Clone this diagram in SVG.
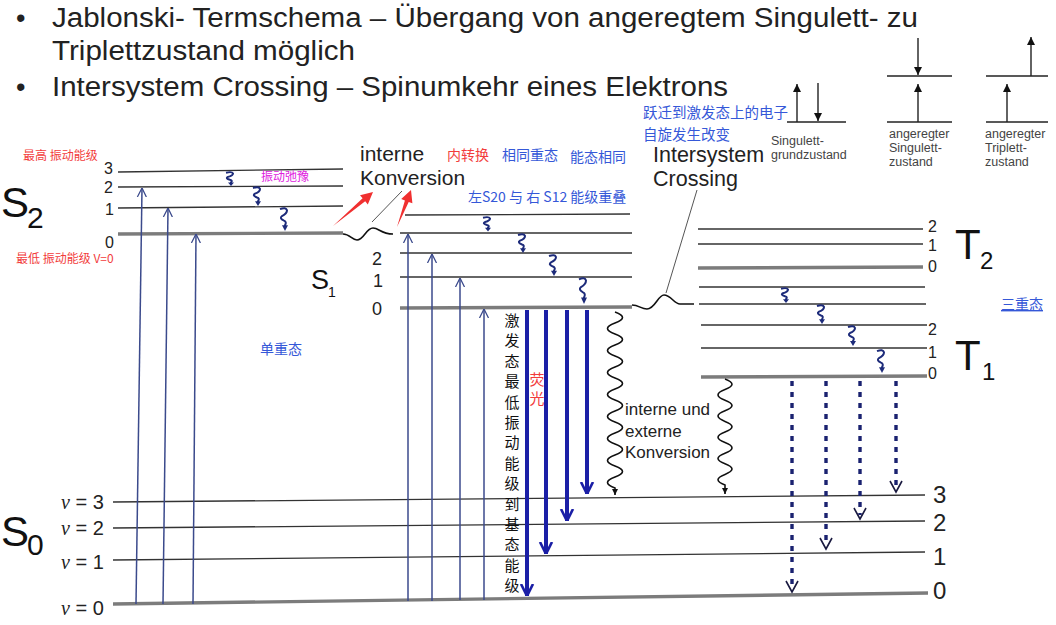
<svg xmlns="http://www.w3.org/2000/svg" width="1056" height="625" viewBox="0 0 1056 625">
<style>
.hd{font-family:"Liberation Sans",Arial,sans-serif;font-size:27px;fill:#222}
.lv{stroke:#333;stroke-width:1.3;fill:none}
.lt{stroke:#7c7c7c;stroke-width:3.4;fill:none}
.num{font-family:"Liberation Sans",Arial,sans-serif;fill:#222}
.big{font-family:"Liberation Sans",Arial,sans-serif;fill:#111}
.lab{font-family:"Liberation Sans",Arial,sans-serif;fill:#222}
.cn{font-family:"Noto Sans CJK SC",sans-serif}
.blue{fill:#3558d8}
.red{fill:#f23c3c}
.abs{stroke:#3b4a8c;stroke-width:1.5;fill:none}
.flu{stroke:#1b1fa6;stroke-width:4;fill:none}
.pho{stroke:#1a2270;stroke-width:3.4;stroke-dasharray:5 6;fill:none}
.phh{stroke:#1a1a40;stroke-width:1.6;fill:none}
.sq{stroke:#1d2b7a;stroke-width:2;fill:none}
.wv{stroke:#111;stroke-width:1.6;fill:none}
.sp{stroke:#222;stroke-width:1.4;fill:none}
.spl{stroke:#555;stroke-width:1;fill:none}
.st{font-family:"Liberation Sans",Arial,sans-serif;font-size:12.5px;fill:#444}
</style>
<defs>
<marker id="ha" viewBox="0 0 10 10" refX="10" refY="5" markerUnits="userSpaceOnUse" markerWidth="9" markerHeight="13" orient="auto"><path d="M0,0 L10,5 L0,10" fill="none" stroke="#3b4a8c" stroke-width="1.4"/></marker>
<marker id="hf" viewBox="0 0 10 10" refX="10" refY="5" markerUnits="userSpaceOnUse" markerWidth="12" markerHeight="18" orient="auto"><path d="M0,0 L10,5 L0,10" fill="none" stroke="#1b1fa6" stroke-width="2.2"/></marker>
<marker id="hs" viewBox="0 0 10 10" refX="10" refY="5" markerUnits="userSpaceOnUse" markerWidth="9" markerHeight="8" orient="auto"><path d="M0,0 L10,5 L0,10 Z" fill="#111"/></marker>
<marker id="hw" viewBox="0 0 10 10" refX="10" refY="5" markerUnits="userSpaceOnUse" markerWidth="6" markerHeight="6" orient="auto"><path d="M0,0 L10,5 L0,10 Z" fill="#111"/></marker>
<g id="squig"><path class="sq" vector-effect="non-scaling-stroke" d="M-4,1 Q2,-1 3,2 Q3,5 -2,7 Q-5,9 0,11 Q3,12 1,15 L1,16"/><polygon points="-2,15 4,15 1,20" fill="#1d2b7a"/></g>
</defs>

<g id="header">
<text class="hd" x="16" y="27">•</text>
<text class="hd" x="52" y="27" textLength="866" lengthAdjust="spacingAndGlyphs">Jablonski- Termschema – Übergang von angeregtem Singulett- zu</text>
<text class="hd" x="52" y="60" textLength="303" lengthAdjust="spacingAndGlyphs">Triplettzustand möglich</text>
<text class="hd" x="16" y="96">•</text>
<text class="hd" x="52" y="96" textLength="676" lengthAdjust="spacingAndGlyphs">Intersystem Crossing – Spinumkehr eines Elektrons</text>
</g>

<g id="spin-ground">
<line class="sp" x1="787" y1="122" x2="846" y2="122"/>
<line class="sp" x1="797" y1="122" x2="797" y2="84" marker-end="url(#hs)"/>
<line class="sp" x1="818" y1="83" x2="818" y2="121" marker-end="url(#hs)"/>
<text class="st" x="771" y="145">Singulett-</text>
<text class="st" x="771" y="159">grundzustand</text>
</g>
<g id="spin-singlet">
<line class="sp" x1="887" y1="76" x2="952" y2="76"/>
<line class="sp" x1="887" y1="122" x2="952" y2="122"/>
<line class="sp" x1="918" y1="122" x2="918" y2="84" marker-end="url(#hs)"/>
<line class="sp" x1="918" y1="38" x2="918" y2="75" marker-end="url(#hs)"/>
<text class="st" x="889" y="138">angeregter</text>
<text class="st" x="889" y="152">Singulett-</text>
<text class="st" x="889" y="166">zustand</text>
</g>
<g id="spin-triplet">
<line class="sp" x1="986" y1="76" x2="1048" y2="76"/>
<line class="sp" x1="986" y1="122" x2="1048" y2="122"/>
<line class="sp" x1="1007" y1="122" x2="1007" y2="84" marker-end="url(#hs)"/>
<line class="sp" x1="1031" y1="76" x2="1031" y2="37" marker-end="url(#hs)"/>
<text class="st" x="985" y="138">angeregter</text>
<text class="st" x="985" y="152">Triplett-</text>
<text class="st" x="985" y="166">zustand</text>
</g>

<g id="S2">
<line class="lv" x1="118" y1="172" x2="343" y2="169"/>
<line class="lv" x1="118" y1="187" x2="343" y2="186"/>
<line class="lv" x1="118" y1="208" x2="343" y2="206"/>
<line class="lt" x1="118" y1="234" x2="343" y2="233"/>
<text class="num" font-size="16" x="104" y="174">3</text>
<text class="num" font-size="16" x="104" y="193">2</text>
<text class="num" font-size="16" x="105" y="215">1</text>
<text class="num" font-size="16" x="105" y="248">0</text>
<text class="big" font-size="42" x="1" y="217">S</text>
<text class="big" font-size="30" x="27" y="228">2</text>
</g>

<g id="S1">
<line class="lv" x1="405" y1="215" x2="630" y2="214"/>
<line class="lv" x1="400" y1="233" x2="632" y2="233"/>
<line class="lv" x1="400" y1="253" x2="632" y2="253"/>
<line class="lv" x1="400" y1="277" x2="632" y2="277"/>
<line class="lt" x1="400" y1="308" x2="632" y2="307"/>
<text class="num" font-size="18" x="372" y="265">2</text>
<text class="num" font-size="18" x="373" y="287">1</text>
<text class="num" font-size="18" x="372" y="315">0</text>
<text class="big" font-size="27" x="311" y="289">S</text>
<text class="big" font-size="14" x="328" y="297">1</text>
</g>

<g id="T">
<line class="lv" x1="698" y1="229" x2="923" y2="229"/>
<line class="lv" x1="698" y1="244" x2="923" y2="244"/>
<line class="lt" x1="698" y1="268" x2="923" y2="267"/>
<line class="lv" x1="699" y1="287" x2="925" y2="287"/>
<line class="lv" x1="699" y1="304" x2="926" y2="304"/>
<line class="lv" x1="701" y1="325" x2="927" y2="325"/>
<line class="lv" x1="701" y1="348" x2="927" y2="348"/>
<line class="lt" x1="701" y1="377" x2="927" y2="376"/>
<text class="num" font-size="16" x="928" y="232">2</text>
<text class="num" font-size="16" x="928" y="251">1</text>
<text class="num" font-size="16" x="928" y="272">0</text>
<text class="num" font-size="16" x="928" y="335">2</text>
<text class="num" font-size="16" x="928" y="358">1</text>
<text class="num" font-size="16" x="928" y="379">0</text>
<text class="big" font-size="42" x="955" y="259">T</text>
<text class="big" font-size="24" x="980" y="269">2</text>
<text class="big" font-size="42" x="955" y="370">T</text>
<text class="big" font-size="24" x="982" y="380">1</text>
</g>

<g id="S0">
<line class="lv" x1="113" y1="502" x2="925" y2="495"/>
<line class="lv" x1="113" y1="528" x2="925" y2="521"/>
<line class="lv" x1="113" y1="560" x2="925" y2="552"/>
<line class="lt" x1="113" y1="604" x2="928" y2="593"/>
<text class="num" font-size="20" x="61" y="509"><tspan font-family="Liberation Serif" font-style="italic">ν</tspan> = 3</text>
<text class="num" font-size="20" x="61" y="535"><tspan font-family="Liberation Serif" font-style="italic">ν</tspan> = 2</text>
<text class="num" font-size="20" x="61" y="569"><tspan font-family="Liberation Serif" font-style="italic">ν</tspan> = 1</text>
<text class="num" font-size="20" x="61" y="615"><tspan font-family="Liberation Serif" font-style="italic">ν</tspan> = 0</text>
<text class="num" font-size="24" x="933" y="503">3</text>
<text class="num" font-size="24" x="933" y="531">2</text>
<text class="num" font-size="24" x="933" y="565">1</text>
<text class="num" font-size="24" x="933" y="599">0</text>
<text class="big" font-size="42" x="1" y="546">S</text>
<text class="big" font-size="30" x="27" y="555">0</text>
</g>

<g id="labels">
<text class="lab" font-size="21" x="360" y="161">interne</text>
<text class="lab" font-size="21" x="360" y="185">Konversion</text>
<text class="lab" font-size="21.5" x="653" y="162">Intersystem</text>
<text class="lab" font-size="21.5" x="653" y="186">Crossing</text>
<text class="lab" font-size="17" x="625" y="415">interne und</text>
<text class="lab" font-size="17" x="625" y="437">externe</text>
<text class="lab" font-size="17" x="625" y="458">Konversion</text>
<text class="cn red" font-size="12" x="23" y="160">最高 振动能级</text>
<text class="cn red" font-size="12" x="16" y="263">最低 振动能级 V=0</text>
<text class="cn" font-size="12" fill="#e020e0" x="261" y="181">振动弛豫</text>
<text class="cn red" font-size="14" x="447" y="160">内转换</text>
<text class="cn blue" font-size="14" x="502" y="160">相同重态</text>
<text class="cn blue" font-size="14" x="570" y="162">能态相同</text>
<text class="cn blue" font-size="14" x="468" y="202">左S20 与 右 S12 能级重叠</text>
<text class="cn blue" font-size="14.5" x="643" y="118">跃迁到激发态上的电子</text>
<text class="cn blue" font-size="14.5" x="643" y="140">自旋发生改变</text>
<text class="cn blue" font-size="14" x="260" y="354">单重态</text>
<text class="cn blue" font-size="14" x="1001" y="309" text-decoration="underline">三重态</text>
<text class="cn red" font-size="15" text-anchor="middle"><tspan x="537" y="385">荧</tspan><tspan x="537" y="404">光</tspan></text>
<text class="cn" font-size="15" fill="#111" text-anchor="middle"><tspan x="512" y="326">激</tspan><tspan x="512" y="346">发</tspan><tspan x="512" y="367">态</tspan><tspan x="512" y="387">最</tspan><tspan x="512" y="408">低</tspan><tspan x="512" y="428">振</tspan><tspan x="512" y="448">动</tspan><tspan x="512" y="469">能</tspan><tspan x="512" y="489">级</tspan><tspan x="512" y="510">到</tspan><tspan x="512" y="530">基</tspan><tspan x="512" y="550">态</tspan><tspan x="512" y="571">能</tspan><tspan x="512" y="591">级</tspan></text>
</g>

<g id="connectors">
<!-- absorption -->
<line class="abs" x1="136" y1="604" x2="142" y2="188" marker-end="url(#ha)"/>
<line class="abs" x1="163" y1="604" x2="168" y2="208" marker-end="url(#ha)"/>
<line class="abs" x1="193" y1="604" x2="196" y2="234" marker-end="url(#ha)"/>
<line class="abs" x1="408" y1="601" x2="408" y2="234" marker-end="url(#ha)"/>
<line class="abs" x1="432" y1="601" x2="432" y2="254" marker-end="url(#ha)"/>
<line class="abs" x1="460" y1="600" x2="460" y2="278" marker-end="url(#ha)"/>
<line class="abs" x1="484" y1="600" x2="484" y2="309" marker-end="url(#ha)"/>
<!-- fluorescence -->
<line class="flu" x1="527" y1="310" x2="527" y2="596" marker-end="url(#hf)"/>
<line class="flu" x1="546" y1="310" x2="546" y2="554" marker-end="url(#hf)"/>
<line class="flu" x1="567" y1="310" x2="567" y2="521" marker-end="url(#hf)"/>
<line class="flu" x1="587" y1="310" x2="587" y2="494" marker-end="url(#hf)"/>
<!-- phosphorescence -->
<line class="pho" x1="792" y1="381" x2="792" y2="588"/>
<polyline class="phh" points="786,581 792,592 798,581"/>
<line class="pho" x1="826" y1="381" x2="826" y2="545"/>
<polyline class="phh" points="820,538 826,549 832,538"/>
<line class="pho" x1="860" y1="381" x2="860" y2="515"/>
<polyline class="phh" points="854,508 860,519 866,508"/>
<line class="pho" x1="896" y1="381" x2="896" y2="488"/>
<polyline class="phh" points="890,481 896,492 902,481"/>
<!-- vibrational relaxation squiggles -->
<use href="#squig" transform="translate(230,172) scale(1,0.7)"/>
<use href="#squig" transform="translate(257,187) scale(1,0.95)"/>
<use href="#squig" transform="translate(284,208) scale(1,1.15)"/>
<use href="#squig" transform="translate(487,217) scale(1,0.72)"/>
<use href="#squig" transform="translate(522,234) scale(1,0.95)"/>
<use href="#squig" transform="translate(553,255) scale(1,1.05)"/>
<use href="#squig" transform="translate(583,278) scale(1,1.3)"/>
<use href="#squig" transform="translate(785,288) scale(1,0.75)"/>
<use href="#squig" transform="translate(821,305) scale(1,0.95)"/>
<use href="#squig" transform="translate(852,326) scale(1,1.0)"/>
<use href="#squig" transform="translate(881,350) scale(1,1.15)"/>
<!-- internal conversion S2->S1 -->
<path class="wv" d="M343,234 C350,234 352,240 357,240 C364,240 366,228 373,228 C379,228 381,234 393,234"/>
<!-- ISC S1->T -->
<path class="wv" d="M632,305 C639,305 641,309 647,309 C655,309 658,295 664,295 C671,295 674,304 680,304 L694,304"/>
<!-- IC/EC long waves -->
<path class="wv" stroke-width="1.5" d="M615,312 q15,5.5 0,11 t0,11 t0,11 t0,11 t0,11 t0,11 t0,11 t0,11 t0,11 t0,11 t0,11 t0,11 t0,11 t0,11 t0,11 t0,11 L615,495" marker-end="url(#hw)"/>
<path class="wv" stroke-width="1.5" d="M725,379 q14,5.3 0,10.6 t0,10.6 t0,10.6 t0,10.6 t0,10.6 t0,10.6 t0,10.6 t0,10.6 t0,10.6 t0,10.6 L725,494" marker-end="url(#hw)"/>
<!-- pointer lines -->
<line class="spl" x1="372" y1="222" x2="402" y2="191"/>
<line class="spl" x1="697" y1="190" x2="666" y2="293"/>
<!-- red annotation arrows -->
<polygon fill="#f03030" points="333,226 365.2,201.3 367.8,204.4 373,192 360,195.2 362.6,198.3"/>
<polygon fill="#f03030" points="397,227 408.7,201.9 412.4,203.3 411,190 401.2,199.1 404.9,200.5"/>
</g>
</svg>
